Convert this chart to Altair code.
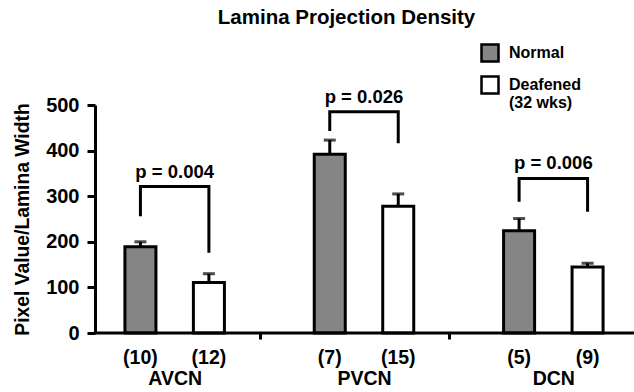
import altair as alt
import pandas as pd

groups = ["AVCN", "PVCN", "DCN"]
series = ["Normal", "Deafened"]
normal_mean = [189, 392, 224]
normal_se = [11, 31, 27]
deaf_mean = [111, 278, 145]
deaf_se = [19, 27, 8]
normal_n = [10, 7, 5]
deaf_n = [12, 15, 9]
p_labels = ["p = 0.004", "p = 0.026", "p = 0.006"]
bracket_level = [321, 485, 339]
bracket_left_end = [256, 443, 288]
bracket_right_end = [176, 416, 266]

rows = []
for i, g in enumerate(groups):
    rows.append({"group": g, "series": "Normal", "mean": normal_mean[i],
                 "top": normal_mean[i] + normal_se[i], "n": f"({normal_n[i]})"})
    rows.append({"group": g, "series": "Deafened", "mean": deaf_mean[i],
                 "top": deaf_mean[i] + deaf_se[i], "n": f"({deaf_n[i]})"})
df = pd.DataFrame(rows)

brows = []
for i, g in enumerate(groups):
    brows += [
        {"group": g, "series": "Normal", "y": bracket_left_end[i], "step": 0},
        {"group": g, "series": "Normal", "y": bracket_level[i], "step": 1},
        {"group": g, "series": "Deafened", "y": bracket_level[i], "step": 2},
        {"group": g, "series": "Deafened", "y": bracket_right_end[i], "step": 3},
    ]
bdf = pd.DataFrame(brows)
pdf = pd.DataFrame({"group": groups, "label": p_labels, "y": bracket_level})

FONT = "Liberation Sans"
W, H = 539, 228

xscale = alt.Scale(domain=groups, range=[-15, 553], paddingInner=0, paddingOuter=0)
xoff_scale = alt.Scale(domain=series, paddingInner=0.547, paddingOuter=0.656)
yscale = alt.Scale(domain=[0, 500], nice=False)

X = alt.X("group:N", scale=xscale, sort=groups, title=None,
          axis=alt.Axis(domain=False, ticks=True, tickSize=6, tickWidth=3,
                        tickColor="black", tickOffset=85, labelOffset=-85,
                        labelPadding=30, labelFontSize=19.5, labelFontWeight="bold",
                        labelColor="black", labelAngle=0, labelFont=FONT))
XO = alt.XOffset("series:N", scale=xoff_scale, sort=series)
Y = alt.Y("mean:Q", scale=yscale, title="Pixel Value/Lamina Width",
          axis=alt.Axis(values=[0, 100, 200, 300, 400, 500], grid=False,
                        domainWidth=3, domainColor="black", tickWidth=3,
                        tickColor="black", tickSize=8, labelPadding=8,
                        labelFontSize=20, labelFontWeight="bold", labelColor="black",
                        labelFont=FONT, titleFont=FONT, titleFontSize=19.3,
                        titleFontWeight="bold", titleColor="black", titlePadding=13))

base = alt.Chart(df)

bars = base.mark_bar(stroke="black", strokeWidth=3).encode(
    x=X, xOffset=XO, y=Y,
    color=alt.Color("series:N", sort=series,
                    scale=alt.Scale(domain=series, range=["#858585", "#ffffff"]),
                    legend=alt.Legend(title=None, orient="none", legendX=385, legendY=-62,
                                      symbolType="square", symbolSize=289,
                                      symbolStrokeColor="black", symbolStrokeWidth=2.5,
                                      labelFont=FONT, labelFontSize=16,
                                      labelFontWeight="bold", labelColor="black",
                                      labelOffset=9, rowPadding=4, padding=0,
                                      labelBaseline="middle",
                                      labelExpr="datum.label == 'Deafened' ? ['Deafened', '(32 wks)'] : datum.label")),
)

err = base.mark_rule(strokeWidth=3, color="black").encode(
    x=alt.X("group:N", sort=groups), xOffset=XO, y="mean:Q", y2="top:Q")

caps = base.mark_tick(orient="horizontal", size=12, thickness=3, color="black").encode(
    x=alt.X("group:N", sort=groups), xOffset=XO, y=alt.Y("top:Q"))

nlab = base.mark_text(font=FONT, fontSize=19.5, fontWeight="bold", color="black",
                      baseline="middle").encode(
    x=alt.X("group:N", sort=groups), xOffset=XO, y=alt.value(H + 25), text="n:N")

brackets = alt.Chart(bdf).mark_line(strokeWidth=3, color="black", strokeJoin="miter",
                                    strokeCap="butt").encode(
    x=alt.X("group:N", sort=groups), xOffset=XO, y=alt.Y("y:Q"),
    detail="group:N", order=alt.Order("step:Q"))

ptext = alt.Chart(pdf).mark_text(font=FONT, fontSize=18.5, fontWeight="bold", color="black",
                                 baseline="alphabetic", dy=-9).encode(
    x=alt.X("group:N", sort=groups), y=alt.Y("y:Q"), text="label:N")

xline = alt.Chart(pd.DataFrame({"zero": [0]})).mark_rule(strokeWidth=3, color="black").encode(
    y=alt.Y("zero:Q"))

chart = alt.layer(bars, err, caps, brackets, ptext, nlab, xline).properties(
    width=W, height=H,
    title=alt.TitleParams("Lamina Projection Density", font=FONT, fontSize=20.5,
                          fontWeight="bold", color="black", anchor="middle",
                          frame="group", dx=-18, dy=-11),
    padding={"left": 95, "top": 105, "right": 0, "bottom": 59},
    autosize=alt.AutoSizeParams(type="none"),
).configure_view(stroke=None)

chart.save("out.html", embed_options={"renderer": "svg", "actions": False})
